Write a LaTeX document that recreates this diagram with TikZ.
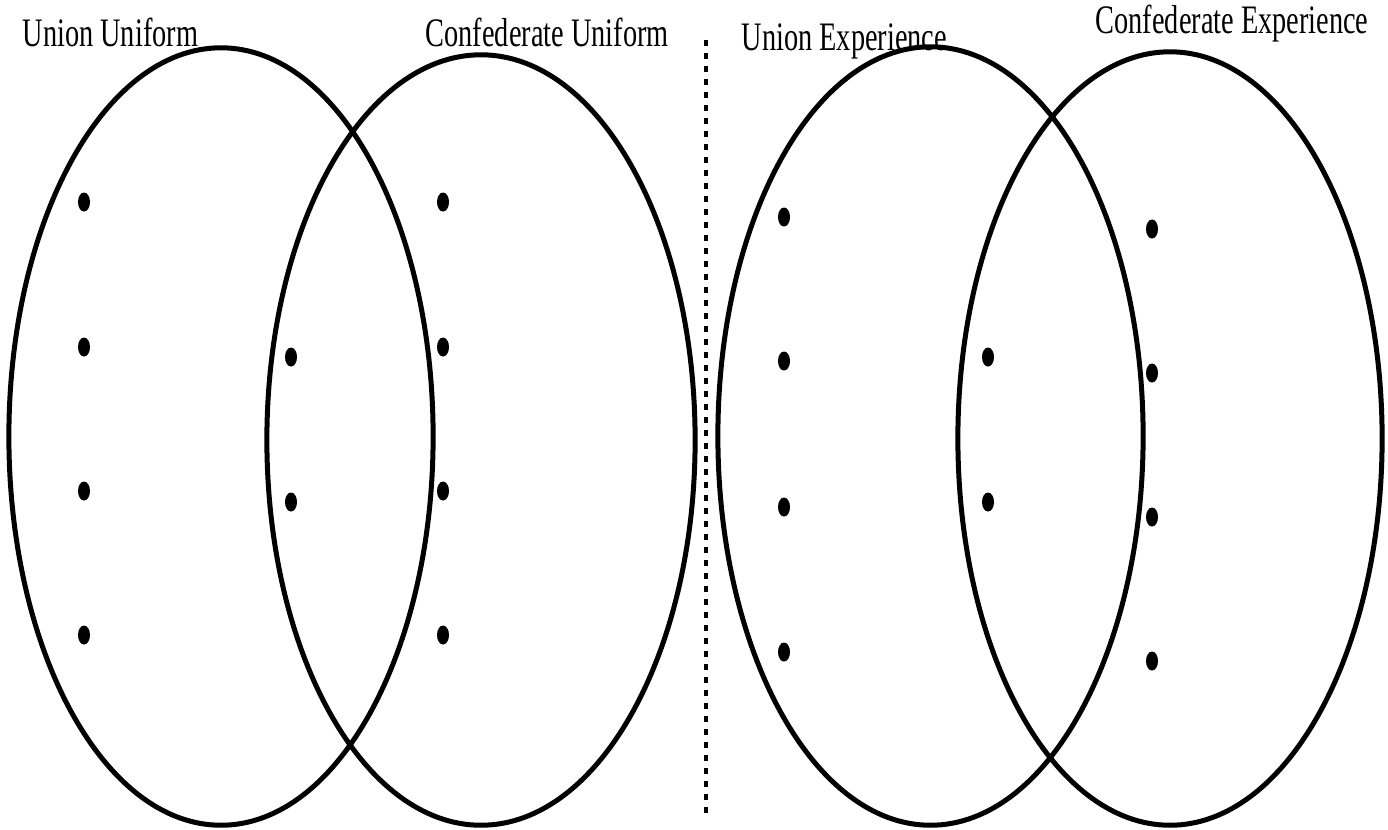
\documentclass[tikz,border=0pt]{standalone}
\usepackage{fontspec}
\setmainfont{Liberation Serif}
\usetikzlibrary{shapes.geometric}
\begin{document}
\begin{tikzpicture}[x=0.01cm,y=-0.01cm,
  venn/.style={draw=black,line width=0.05cm},
  dotmark/.style={ellipse,fill=black,inner sep=0pt,minimum width=0.12cm,minimum height=0.19cm},
  lbl/.style={inner sep=0pt,anchor=base west,font=\fontsize{11.5}{13}\selectfont},
  divider/.style={line width=0.035cm,dash pattern=on 0.06cm off 0.07cm}]
\useasboundingbox (0,0) rectangle (1388,829);
% ellipses
\draw[venn] (221,436.5) ellipse [x radius=2.12cm, y radius=3.885cm];
\draw[venn] (481,440) ellipse [x radius=2.14cm, y radius=3.85cm];
\draw[venn] (930.5,436) ellipse [x radius=2.125cm, y radius=3.89cm];
\draw[venn] (1170,438.5) ellipse [x radius=2.12cm, y radius=3.865cm];
% divider
\coordinate (dtop) at (706,40);
\coordinate (dbot) at (706,815);
\draw[divider] (dtop) -- (dbot);
% labels
\node[lbl] (uu) at (22,46) {\scalebox{0.70}[1]{Union Uniform}};
\node[lbl] (cu) at (425,46) {\scalebox{0.70}[1]{Confederate Uniform}};
\node[lbl] (ue) at (741,50) {\scalebox{0.70}[1]{Union Experience}};
\node[lbl] (ce) at (1095,33) {\scalebox{0.70}[1]{Confederate Experience}};
% dots
\foreach \y [count=\i] in {202,347,491,635} {\node[dotmark] (uu\i) at (84,\y) {};}
\foreach \y [count=\i] in {357,502} {\node[dotmark] (bu\i) at (291,\y) {};}
\foreach \y [count=\i] in {202,347,491,635} {\node[dotmark] (cu\i) at (443,\y) {};}
\foreach \y [count=\i] in {217,361,507,652} {\node[dotmark] (ue\i) at (784,\y) {};}
\foreach \y [count=\i] in {357,502} {\node[dotmark] (be\i) at (988,\y) {};}
\foreach \y [count=\i] in {229,373,517,661} {\node[dotmark] (ce\i) at (1152,\y) {};}
\end{tikzpicture}
\end{document}
